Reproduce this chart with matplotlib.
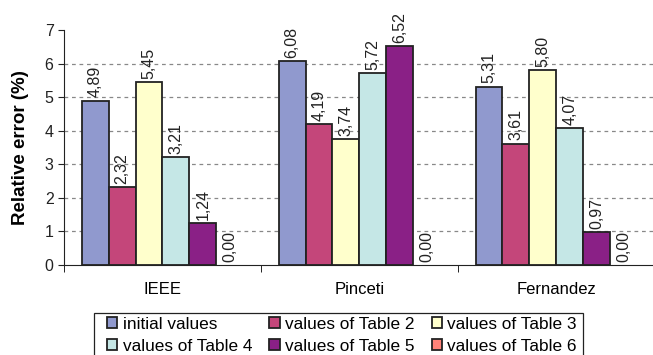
import numpy as np
import matplotlib
matplotlib.use("Agg")
import matplotlib.pyplot as plt
from matplotlib.patches import Patch, Rectangle

plt.rcParams['font.family'] = ['Liberation Sans', 'DejaVu Sans']

methods = ["IEEE", "Pinceti", "Fernandez"]
series_names = ["initial values", "values of Table 2", "values of Table 3",
                "values of Table 4", "values of Table 5", "values of Table 6"]
initial_values = [4.89, 6.08, 5.31]
table2 = [2.32, 4.19, 3.61]
table3 = [5.45, 3.74, 5.80]
table4 = [3.21, 5.72, 4.07]
table5 = [1.24, 6.52, 0.97]
table6 = [0.00, 0.00, 0.00]
colors = ["#9099CE", "#C4467A", "#FFFFCC", "#C5E7E6", "#8A2086", "#FF8379"]

series = [initial_values, table2, table3, table4, table5, table6]

fig = plt.figure(figsize=(6.53, 3.55), dpi=100)
ax = fig.add_axes([0.098, 0.2535, 0.905, 0.662])

x = np.arange(len(methods))
w = 0.137
for i, (vals, c) in enumerate(zip(series, colors)):
    pos = x + (i - 2.5) * w
    # zero-height bars get no outline
    lw = [1.3 if v > 0 else 0 for v in vals]
    ax.bar(pos, vals, w, color=c, edgecolor="#222222", linewidth=lw, zorder=3)
    for p, v in zip(pos, vals):
        ax.text(p, v + 0.1, f"{v:.2f}".replace(".", ","), rotation=90,
                ha="center", va="bottom", fontsize=11.5, color="#222222")

ax.set_xlim(-0.5, 2.5)
ax.set_ylim(0, 7)
ax.set_yticks(range(8))
ax.tick_params(axis="y", labelsize=11.5, length=4, colors="#222222")
for yv in range(1, 7):
    ax.axhline(yv, color="#888888", linestyle=(0, (3, 3)), linewidth=0.9, zorder=1)

ax.set_xticks(x)
ax.set_xticklabels(methods, fontsize=12)
ax.tick_params(axis="x", length=0, pad=12)
ax.set_xticks([-0.5, 0.5, 1.5, 2.5], minor=True)
ax.tick_params(axis="x", which="minor", length=5, direction="out")

for s in ["top", "right"]:
    ax.spines[s].set_visible(False)
ax.spines["left"].set_color("#222222")
ax.spines["bottom"].set_color("#222222")

ax.set_ylabel("Relative error (%)", fontsize=13.5, fontweight="bold", labelpad=11)

# legend entries without frame, box drawn separately so it can be wider
handles = [Patch(facecolor=c, edgecolor="#222222", linewidth=1.3) for c in colors]
order = [0, 3, 1, 4, 2, 5]
fig.legend([handles[i] for i in order], [series_names[i] for i in order],
           ncol=3, loc="upper left", bbox_to_anchor=(0.1587, 0.118),
           fontsize=12.4, frameon=False,
           handlelength=0.6, handleheight=0.6, handletextpad=0.3,
           columnspacing=1.0, labelspacing=0.42, borderpad=0.2,
           borderaxespad=0)
fig.add_artist(Rectangle((0.144, -0.05), 0.749, 0.1683, transform=fig.transFigure,
                         fill=False, edgecolor="#222222", linewidth=0.9))

fig.savefig("out.png", dpi=100)
